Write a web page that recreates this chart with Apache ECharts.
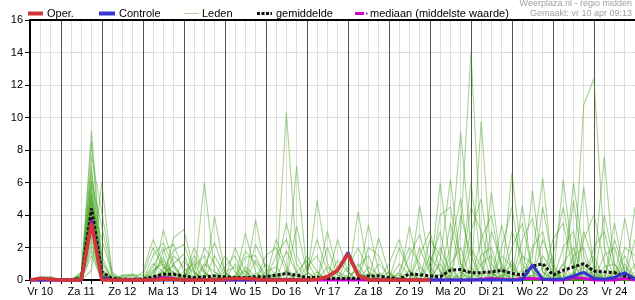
<!DOCTYPE html>
<html>
<head>
<meta charset="utf-8">
<script src="https://cdn.jsdelivr.net/npm/echarts@6/dist/echarts.min.js"></script>
<style>
html,body{margin:0;padding:0;background:#fff;}
#c{width:635px;height:300px;}
</style>
</head>
<body>
<div id="c"></div>
<script>
// Day labels (noon of each day); data are 6-hourly from Vr 10 06:00 to Za 25 00:00
const dayLabels = ['Vr 10','Za 11','Zo 12','Ma 13','Di 14','Wo 15','Do 16','Vr 17','Za 18','Zo 19','Ma 20','Di 21','Wo 22','Do 23','Vr 24','Za 25'];
const yTicks = [0,2,4,6,8,10,12,14,16];

// Operational run (ends Ma 20 00:00)
const oper = [0,0.1,0.05, 0,0,0,3.5, 0,0,0,0, 0,0,0.05,0.05, 0,0,0,0, 0.05,0.1,0.1,0.05, 0,0,0,0, 0,0.05,0.2,0.6, 1.6,0.3,0,0, 0,0,0,0, 0];
// Control run
const controle = [0,0,0, 0,0,0,3.6, 0.15,0,0,0, 0,0,0,0, 0,0,0,0, 0,0,0,0, 0,0,0,0, 0,0.05,0.2,0.6, 1.7,0.3,0,0, 0,0,0,0, 0,0,0,0, 0,0,0,0, 0,0,0.92,0.05, 0.05,0.05,0.25,0.47, 0.1,0.05,0.15,0.45, 0.05];
// Ensemble mean
const gemiddelde = [0.03,0.05,0.05, 0.02,0.02,0.1,4.4, 0.5,0.1,0.05,0.05, 0.05,0.2,0.35,0.35, 0.25,0.15,0.2,0.25, 0.2,0.15,0.15,0.2, 0.2,0.3,0.4,0.3, 0.15,0.15,0.1,0.1, 0.1,0.1,0.25,0.25, 0.15,0.05,0.37,0.33, 0.25,0.2,0.6,0.65, 0.45,0.45,0.5,0.6, 0.4,0.3,0.85,1.0, 0.3,0.6,0.8,1.0, 0.55,0.5,0.45,0.25, 0.1];
// Ensemble median
const mediaan = [0,0,0, 0,0,0,3.8, 0.1,0,0,0, 0,0.05,0.15,0.1, 0,0,0,0, 0,0,0,0, 0,0,0.05,0, 0,0,0,0, 0,0,0,0, 0,0,0,0, 0,0,0,0, 0,0.05,0.1,0.05, 0,0.1,0.1,0.05, 0,0,0.15,0.1, 0,0,0,0.1, 0];

// Ensemble members (Leden)
const m01 = [0,0.2,0.1, 0,0,0.3,9.2, 1.0,0.2,0,0, 0,0.5,1.2,0.4, 0,0,0.3,0, 0,0,0.8,0.2, 0,0,10.3,1.5, 0.2,0,0,0, 0,0,0.4,0, 0,0,0,0, 0,1.2,6.2,1.0, 0,0,0,0.8, 0,0,1.5,6.25, 0.5,0,0,1.0, 0.3,0,0,0.8, 0];
const m02 = [0,0,0, 0,0,0.2,8.5, 0.6,0,0,0, 0,0,3.1,1.0, 0,0,6.0,0.5, 0,0,0,0, 0,0,0,0, 0,0.5,0,0, 0,1.0,0,0, 0,0,0,4.6, 0.8,0,0,3.0, 14.0,2.0,0,0, 1.0,0,0,0, 0,0,0.4,0, 0,0,0.6,0, 0];
const m03 = [0,0,0, 0,0,0,7.6, 4.2,0.5,0,0, 0,0.8,2.0,0, 0,0,0,3.9, 0.5,0,0,3.7, 0.5,0,0,0, 0,4.9,1.0,0, 0,0,0,0, 0,1.0,0.3,0, 0,0,1.5,9.1, 2.0,0,0,0, 0,4.6,0.5,0, 0,0,0,0, 0.8,7.6,0.5,0, 0];
const m04 = [0,0.1,0.1, 0,0,0.4,7.0, 0.3,0,0.2,0, 0,0,0,2.6, 3.1,0.5,0,0, 0,0,2.9,0.5, 0,0,0,7.0, 0.5,0,0,0, 0,4.2,0.5,0, 0,0,0,0, 0,6.0,0.8,0, 0,9.75,1.0,0, 0,0,0,0, 0,6.2,1.0,0, 0,0,0,0, 0.5];
const m05 = [0,0,0, 0,0,0.5,6.6, 1.5,0,0,0, 0,1.5,2.3,0.8, 0,2.0,0.5,0, 0,0,0,0, 0,2.5,0.8,0, 0,0,0,0, 0,0,3.4,0.5, 0,0,3.3,0.5, 0,0,0,0, 0,0,5.4,0.6, 0,0,5.5,0.5, 0,0,0,10.8, 12.4,2.0,0,0, 0];
const m06 = [0,0,0, 0,0,0.2,6.2, 0.4,0,0.3,0.3, 0.3,2.0,0.8,0, 1.2,0.4,0,0, 0,2.0,0.5,0, 0,0,0,0, 0,0,3.0,0.5, 0,0,0,2.6, 0.4,0,0,0, 2.5,1.5,0,0, 0,0,0,0, 6.6,1.0,0,0, 0,0,4.9,0.5, 0,0,0,3.8, 0.6];
const m07 = [0,0,0, 0,0,0,6.0, 3.3,0.3,0,0, 0,0,1.8,2.2, 0.5,0,0,0, 1.5,0.5,0,0, 1.0,0.3,0,0, 0,0,0,0, 1.5,0.3,0,0, 0,2.0,0.5,0, 0,0,3.5,0.5, 0,0,0,3.4, 0.5,0,0,2.5, 0.8,0,0,5.75, 0.5,0,0,0, 4.5];
const m08 = [0,0,0.2, 0,0,0.3,5.7, 0.2,0,0,0.4, 0,1.0,0.5,0, 0,1.5,0.5,0, 0,0,0,1.2, 0.3,0,0,3.3, 0.5,0,0,1.2, 0.5,0,0,0, 0,0,0,2.0, 0.4,0,0,0, 4.5,3.0,0.5,0, 0,2.5,3.8,0.5, 0,2.0,3.0,0, 0,4.0,1.0,0, 0];
const m09 = [0,0,0, 0,0,0,5.4, 0.5,0,0,0, 0,0,0,1.5, 0.8,0,0,1.5, 0.3,0,1.8,1.0, 0,0,0,0, 1.5,0.5,0,0, 0,0,2.0,1.5, 0,0,0,0, 0,4.0,4.5,1.0, 0,0,3.0,1.0, 0,0,0,0, 2.5,3.5,0.5,0, 0,0,2.5,0.5, 0];
const m10 = [0,0,0, 0,0,0.2,5.1, 0.2,0,0,0, 0.5,2.5,1.0,0, 0,0,2.0,1.0, 0,0,0,0, 0,1.5,2.5,0.5, 0,0,0,0, 0.8,2.0,0.5,0, 0,0,0,0, 1.0,3.0,0,0, 6.0,1.0,0,0, 3.0,1.5,0,0, 0,0,0,2.5, 4.0,1.0,0,0, 0];
const m11 = [0,0,0, 0,0,0,4.9, 0.4,0,0,0, 0,0,0.6,1.8, 2.2,0.5,0,0, 0,1.0,0.3,0, 0,0,0,0, 0.4,2.5,0.5,0, 0,0,0,0, 1.0,2.5,0.5,0, 0,0,0,4.0, 1.5,0,0,2.0, 4.5,0.5,0,0, 0,1.0,2.0,0, 0,0,0,2.0, 1.5];
const m12 = [0,0,0, 0,0,0.3,4.6, 2.5,0.3,0,0, 0,0.4,1.4,0, 0,0.8,1.5,0, 0,0,0,2.2, 0.8,0,1.8,0.4, 0,0,0,0, 0,0,0,1.0, 0.3,0,0,1.5, 3.0,0.5,0,0, 0,2.5,4.0,0.5, 0,0,0,4.5, 1.0,0,0,0, 2.0,3.0,0.5,0, 0];
const m13 = [0,0.2,0.2, 0,0,0,4.4, 0.3,0,0.3,0.3, 0,0,0,1.0, 1.6,0,0,0, 0.8,1.5,0,0, 0,0.5,3.5,1.0, 0,0,2.0,0.3, 0,0,0,0, 0,0,1.5,2.8, 0.5,0,2.0,5.0, 0.5,0,0,0, 0,0,2.0,3.0, 0,0,6.0,1.5, 0,0,3.5,0.4, 0];
const m14 = [0,0,0, 0,0,0,4.2, 0.5,0,0,0, 0,0.6,1.0,0, 0,0,0.8,2.3, 0.5,0,0,0, 1.5,2.0,0.5,0, 0,0,0,0, 0,0.8,1.5,0, 0,0,0,0, 0,2.0,0.5,0, 0,1.5,2.0,0, 2.0,3.5,0.5,0, 0,0,0,3.0, 1.0,0,0,0, 2.5];
const m15 = [0,0,0, 0,0,0,4.0, 0.6,0,0,0, 0,0,0.4,0.9, 0,1.2,0.4,0, 0,0,1.4,1.5, 0,0,0,0, 0.8,1.5,0,2.5, 0.5,0,0,0, 0,0.5,2.0,1.0, 0,0,0,0, 3.0,5.0,0.5,0, 0,0,0,0, 1.5,4.5,1.0,0, 0,1.5,2.0,0, 0];
const m16 = [0,0,0, 0,0,0,3.8, 0.3,0,0,0, 0,0,0.8,0.5, 0,0,0,0, 0.5,0.8,0,0, 0,0,0,0.5, 1.2,0,0,0, 0,0,0.8,0.3, 0,0,0,0, 1.5,0.5,0,0, 0,0,0,1.5, 0.8,0,0,1.5, 0.5,0,0,0, 1.5,0,0,1.0, 0];
const m17 = [0,0,0, 0,0,0,3.6, 0.2,0,0,0, 0,0.3,0,0, 0.5,1.0,0,0, 0,0,0,0, 0.5,0.8,0,0, 0,0,0,0, 0.3,0.6,0,0, 0,0.4,0,0, 0,0,1.0,2.0, 0,0,0,0, 0,1.5,1.0,0, 0,0,1.5,2.0, 0,0,0,0, 1.0];
const m18 = [0,0,0, 0,0,0,3.4, 0.3,0,0,0, 0,0,0,0.5, 0,0,1.0,0.5, 0,0,0.6,0, 0,0,0,0, 0,0,0.8,0.3, 0,0,0,0, 0.5,0,0,0, 0,1.0,0,0, 2.0,0.8,0,0, 0,0,0.8,0, 0,1.0,0,0, 0,0.8,1.0,0, 0];
const m19 = [0,0,0, 0,0,0,3.2, 0,0,0.2,0.2, 0,0.2,0.5,0, 0,0,0,0, 0,0.3,0,0, 0,0,0.6,0, 0,0.3,0,0, 0,0,0,0.4, 0,0,0,0.8, 0,0,0,0, 0,1.0,1.5,0, 0,0,0,0, 0.6,0,0,0, 0.6,0,0,1.5, 0];
const m20 = [0,0,0, 0,0,0,3.0, 0.2,0,0,0, 0.2,0,0,0, 0.3,0,0,0, 0,0,0,0.4, 0,0,0,0, 0,0,0,0.5, 0.2,0,0,0, 0,0,0.6,0, 0,0,0.8,0, 0,0,0,0, 1.2,0,0,0, 0,0,0,0.8, 0,0.5,0,0, 0];
const m21 = [0,0,0, 0,0,0,2.7, 0,0,0,0, 0,0,0.3,0, 0,0,0,0.3, 0,0,0,0, 0,0.2,0,0, 0,0,0,0, 0,0.3,0,0, 0,0,0,0, 0,0,0,0.5, 0,0,0,0, 0,0.6,0,0, 0,0,0.5,0, 0,0,0.4,0, 0];
const m22 = [0,0,0, 0,0,0,2.4, 0,0,0,0, 0,0,0,0.2, 0,0,0,0, 0,0,0,0, 0,0,0,0.3, 0,0,0,0, 0,0,0,0, 0,0,0,0, 0.3,0,0,0, 0,0,0.4,0, 0,0,0,0.8, 0,0,0,0, 0.3,0,0,0, 0];
const m23 = [0,0,0, 0,0,0,2.1, 0,0,0,0, 0,0.2,0,0, 0,0,0,0, 0,0,0,0, 0,0,0,0, 0,0,0.2,0, 0,0,0,0, 0,0,0,0, 0,0.4,0,0, 0,0,0,0.3, 0,0,0,0, 0,0.5,0,0, 0,0,0,0.3, 0];
const m24 = [0,0,0, 0,0,0,1.8, 0,0,0,0, 0,0,0,0, 0,0.2,0,0, 0,0,0,0, 0,0,0,0, 0,0,0,0, 0,0,0,0, 0,0.3,0,0, 0,0,0,0, 0.8,0,0,0, 0,0,0,0, 0.3,0,0,0, 0,0,0,0, 0];
const m25 = [0,0,0, 0,0,0,1.5, 0,0,0,0, 0,0,0,0, 0,0,0,0, 0,0,0.2,0, 0,0,0,0, 0,0,0,0, 0,0,0,0, 0,0,0,0, 0,0,0,0, 0,0.4,0,0, 0,0,0.3,0, 0,0,0,0.5, 0,0,0,0, 0];
const m26 = [0,0,0, 0,0,0.2,5.3, 0.8,0,0,0, 0,0,0,0, 0.3,0,0,0, 0,0,0,0, 0,0,0.5,0, 0,0,0,0, 0,0,0.3,0, 0,0,0,0, 0,0,0.3,0, 0,0,0,0, 0.4,0,0,0, 0,0,0,0, 0,0.3,0,0, 0];
const m27 = [0,0,0, 0,0,0,4.8, 1.2,0,0,0, 0,0,0.5,0, 0,0,0,0, 0,0,0,0, 0,0,0,0, 0,0.3,0,0, 0,0,0,0, 0,0,0,0.3, 0,0,0,0, 0,0,0.2,0, 0,0,0,0, 0,0,0.3,0, 0,0,0,0, 0.3];
const m28 = [0,0,0, 0,0,0,0.6, 6.0,0.4,0,0, 0,0,0,0, 0,0,0,0, 0.2,0,0,0, 0,0,0,0, 0,0,0,0, 0.2,0,0,0, 0,0,0,0, 0,0,0,0.3, 0,0,0,0, 0,0,0,0, 0,0.3,0,0, 0,0,0,0, 0];
const leden = [m01,m02,m03,m04,m05,m06,m07,m08,m09,m10,m11,m12,m13,m14,m15,m16,m17,m18,m19,m20,m21,m22,m23,m24,m25,m26,m27,m28];

const N = 60;
[controle,gemiddelde,mediaan].concat(leden).forEach(function(a,k){ if(a.length!==N) throw new Error('length '+k+' = '+a.length); });

// Category labels: 6-hourly times
const cats = [];
for (let i = 0; i < N; i++) {
  const h = 6 + 6 * i;
  const d = Math.floor(h / 24);
  const hh = h % 24;
  cats.push(dayLabels[d] + ' ' + (hh < 10 ? '0' : '') + hh + ':00');
}
const operData = cats.map(function(c,i){ return i < oper.length ? oper[i] : null; });

const FONT = '"Liberation Sans", Arial, sans-serif';
const series = [];
leden.forEach(function(m){
  series.push({type:'line', data:m, xAxisIndex:0, symbol:'none', silent:true, clip:false, z:2,
    lineStyle:{color:'rgba(60,160,20,0.45)', width:1.1}, emphasis:{disabled:true}});
});
series.push({type:'line', name:'mediaan', data:mediaan, symbol:'none', silent:true, clip:false, z:3,
  lineStyle:{color:'#d000d0', width:3}});
series.push({type:'line', name:'gemiddelde', data:gemiddelde, symbol:'none', silent:true, clip:false, z:4,
  lineStyle:{color:'#111', width:3, type:[3,2], cap:'butt'}});
series.push({type:'line', name:'Controle', data:controle, symbol:'none', silent:true, clip:false, z:5,
  lineStyle:{color:'#3535d0', width:3}});
series.push({type:'line', name:'Oper.', data:operData, symbol:'none', silent:true, clip:false, z:6,
  lineStyle:{color:'#d43535', width:3.5}});

const chart = echarts.init(document.getElementById('c'), null, {renderer:'canvas'});
chart.setOption({
  animation:false,
  backgroundColor:'#fff',
  grid:{left:30, right:0, top:20, bottom:20, containLabel:false},
  xAxis:[{
    type:'category', data:cats, boundaryGap:false, position:'bottom',
    axisLine:{show:true, lineStyle:{color:'#000', width:2}},
    axisTick:{show:true, interval:0, length:4, lineStyle:{color:'#000', width:1}},
    axisLabel:{interval:function(i){ return i % 4 === 1; }, margin:6, color:'#000', fontSize:11, fontFamily:FONT,
      formatter:function(v){ return v.split(' ').slice(0,2).join(' '); }},
    splitLine:{show:true, interval:0, lineStyle:{color:'#dcdcdc', width:1}}
  },{
    type:'category', data:cats, boundaryGap:false, position:'top',
    axisLine:{show:true, lineStyle:{color:'#000', width:2}},
    axisTick:{show:false}, axisLabel:{show:false},
    splitLine:{show:true, interval:function(i){ return i % 4 === 3; }, lineStyle:{color:'#555', width:1}}
  }],
  yAxis:{
    type:'value', min:0, max:16, interval:2,
    axisLine:{show:true, lineStyle:{color:'#000', width:2}},
    axisTick:{show:true, length:5, lineStyle:{color:'#000'}},
    axisLabel:{margin:7, color:'#000', fontSize:11, fontFamily:FONT,
      formatter:function(v){ return yTicks.indexOf(v) >= 0 ? String(v) : ''; }},
    splitLine:{show:true, lineStyle:{color:'#dcdcdc', width:1}}
  },
  graphic:[
    {type:'line', shape:{x1:28,y1:13.5,x2:43,y2:13.5}, style:{stroke:'#d43535', lineWidth:4}},
    {type:'text', style:{text:'Oper.', x:47, y:13.5, font:'11px '+FONT, fill:'#000', verticalAlign:'middle', textVerticalAlign:'middle'}},
    {type:'line', shape:{x1:99,y1:13.5,x2:115,y2:13.5}, style:{stroke:'#3535d0', lineWidth:4}},
    {type:'text', style:{text:'Controle', x:119, y:13.5, font:'11px '+FONT, fill:'#000', verticalAlign:'middle', textVerticalAlign:'middle'}},
    {type:'line', shape:{x1:184,y1:13.5,x2:199,y2:13.5}, style:{stroke:'rgba(60,160,20,0.45)', lineWidth:1}},
    {type:'text', style:{text:'Leden', x:202, y:13.5, font:'11px '+FONT, fill:'#000', verticalAlign:'middle', textVerticalAlign:'middle'}},
    {type:'line', shape:{x1:257,y1:13.5,x2:272,y2:13.5}, style:{stroke:'#111', lineWidth:3, lineDash:[3,1.5]}},
    {type:'text', style:{text:'gemiddelde', x:276, y:13.5, font:'11px '+FONT, fill:'#000', verticalAlign:'middle', textVerticalAlign:'middle'}},
    {type:'line', shape:{x1:355,y1:13.5,x2:364,y2:13.5}, style:{stroke:'#d000d0', lineWidth:3}},
    {type:'line', shape:{x1:366,y1:13.5,x2:367.5,y2:13.5}, style:{stroke:'#d000d0', lineWidth:2}},
    {type:'text', style:{text:'mediaan (middelste waarde)', x:370, y:13.5, font:'11px '+FONT, fill:'#000', verticalAlign:'middle', textVerticalAlign:'middle'}},
    {type:'text', style:{text:'Weerplaza.nl - regio midden', x:632, y:4, font:'9px '+FONT, fill:'#a0a0a0', align:'right', textAlign:'right', verticalAlign:'middle', textVerticalAlign:'middle'}},
    {type:'text', style:{text:'Gemaakt: vr 10 apr 09:13', x:632, y:14, font:'9px '+FONT, fill:'#a0a0a0', align:'right', textAlign:'right', verticalAlign:'middle', textVerticalAlign:'middle'}}
  ],
  series:series
});
</script>
</body>
</html>
